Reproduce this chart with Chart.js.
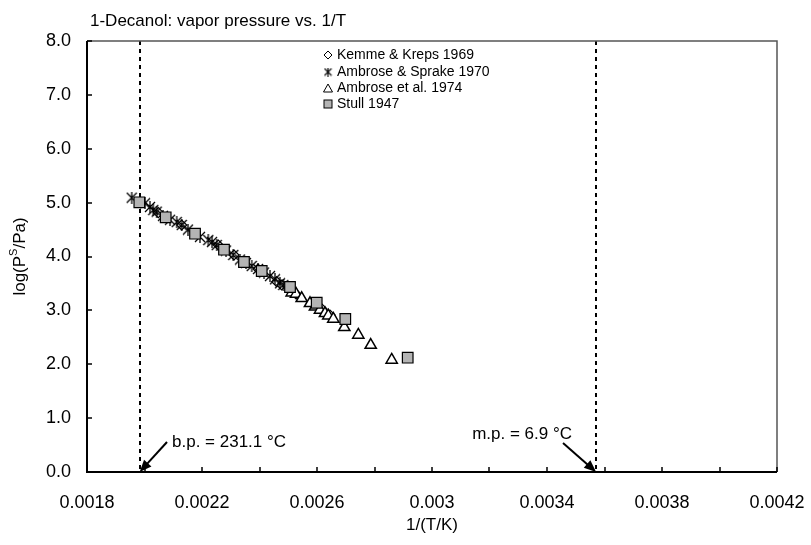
<!DOCTYPE html>
<html>
<head>
<script src="https://cdn.jsdelivr.net/npm/chart.js@4.4.1/dist/chart.umd.min.js"></script>
<style>
  body { margin: 0; background: #fff; }
</style>
</head>
<body>
<canvas id="vpChart" width="811" height="545"></canvas>
<script>
// Kemme & Kreps 1969 (diamonds)
const kemmeX = [0.002048, 0.0021294, 0.0022567, 0.0023113, 0.0023948, 0.0024598, 0.0024772, 0.002527, 0.0025826, 0.0026174, 0.0026452];
const kemmeY = [4.813, 4.585, 4.213, 4.028, 3.768, 3.532, 3.471, 3.304, 3.137, 3.025, 2.914];

// Ambrose & Sprake 1970 (asterisks)
const sprakeX = [0.0019555, 0.0020017, 0.0020191, 0.0020306, 0.0020424, 0.0020643, 0.0020887, 0.002112, 0.0021294, 0.0021513,
                 0.002193, 0.0022219, 0.0022348, 0.0022511, 0.0022835, 0.0023089, 0.0023322, 0.002353, 0.0023729, 0.0023948,
                 0.0024157, 0.0024365, 0.0024539, 0.0024713, 0.0024828];
const sprakeY = [5.091, 4.988, 4.919, 4.863, 4.832, 4.755, 4.681, 4.640, 4.585, 4.499,
                 4.364, 4.306, 4.269, 4.213, 4.111, 4.028, 3.944, 3.879, 3.824, 3.768,
                 3.703, 3.638, 3.577, 3.503, 3.471];

// Ambrose et al. 1974 (triangles)
const ambroseX = [0.002512, 0.002527, 0.0025468, 0.0025757, 0.002593, 0.0026104, 0.0026278, 0.0026393, 0.0026567, 0.002695, 0.0027437, 0.0027868, 0.0028598];
const ambroseY = [3.328, 3.304, 3.224, 3.131, 3.068, 3.007, 2.946, 2.901, 2.840, 2.686, 2.543, 2.357, 2.079];

// Stull 1947 (grey squares)
const stullX = [0.001982, 0.0020737, 0.0021757, 0.0022765, 0.002346, 0.0024077, 0.0025061, 0.002599, 0.0026984, 0.0029155];
const stullY = [5.006, 4.728, 4.423, 4.126, 3.898, 3.731, 3.434, 3.142, 2.840, 2.122];

const seriesNames = ['Kemme & Kreps 1969', 'Ambrose & Sprake 1970', 'Ambrose et al. 1974', 'Stull 1947'];

const xTickLabels = ['0.0018', '0.0022', '0.0026', '0.003', '0.0034', '0.0038', '0.0042'];
const yTickLabels = ['0.0', '1.0', '2.0', '3.0', '4.0', '5.0', '6.0', '7.0', '8.0'];

// boiling / melting point lines: 1/T
const bpX = 1 / (231.1 + 273.15);
const mpX = 1 / (6.9 + 273.15);

const FONT = '"Liberation Sans", Arial, Helvetica, sans-serif';

function pts(xs, ys) {
  return xs.map((x, i) => ({ x: x, y: ys[i] }));
}

function makeAsterisk(size, lw) {
  const c = document.createElement('canvas');
  c.width = size; c.height = size;
  const g = c.getContext('2d');
  g.strokeStyle = '#000';
  g.lineWidth = lw;
  g.beginPath();
  g.moveTo(1, 1); g.lineTo(size - 1, size - 1);
  g.moveTo(size - 1, 1); g.lineTo(1, size - 1);
  g.moveTo(size / 2, 0); g.lineTo(size / 2, size);
  g.stroke();
  return c;
}
const starBig = makeAsterisk(12, 1.3);
const starSmall = makeAsterisk(9, 1.1);

function arrow(ctx, x1, y1, x2, y2) {
  const ang = Math.atan2(y2 - y1, x2 - x1);
  const hl = 12, hw = 5;
  ctx.beginPath();
  ctx.moveTo(x1, y1);
  ctx.lineTo(x2 - Math.cos(ang) * hl * 0.8, y2 - Math.sin(ang) * hl * 0.8);
  ctx.stroke();
  ctx.beginPath();
  ctx.moveTo(x2, y2);
  ctx.lineTo(x2 - Math.cos(ang) * hl - Math.sin(ang) * hw, y2 - Math.sin(ang) * hl + Math.cos(ang) * hw);
  ctx.lineTo(x2 - Math.cos(ang) * hl + Math.sin(ang) * hw, y2 - Math.sin(ang) * hl - Math.cos(ang) * hw);
  ctx.closePath();
  ctx.fill();
}

const decorPlugin = {
  id: 'decor',
  beforeDatasetsDraw(chart) {
    const { ctx, chartArea: a, scales: { x } } = chart;
    ctx.save();
    ctx.strokeStyle = '#000';
    ctx.lineWidth = 2;
    ctx.setLineDash([4, 4]);
    [bpX, mpX].forEach(v => {
      const px = Math.round(x.getPixelForValue(v));
      ctx.beginPath();
      ctx.moveTo(px, a.top);
      ctx.lineTo(px, a.bottom);
      ctx.stroke();
    });
    ctx.restore();
  },
  afterDraw(chart) {
    const { ctx, chartArea: a, scales: { x, y } } = chart;
    ctx.save();
    // frame: top/right thin grey
    ctx.strokeStyle = '#555';
    ctx.lineWidth = 1.5;
    ctx.beginPath();
    ctx.moveTo(a.left, a.top);
    ctx.lineTo(a.right, a.top);
    ctx.lineTo(a.right, a.bottom);
    ctx.stroke();
    // axes
    ctx.strokeStyle = '#000';
    ctx.lineWidth = 2;
    ctx.beginPath();
    ctx.moveTo(a.left, a.top);
    ctx.lineTo(a.left, a.bottom);
    ctx.lineTo(a.right, a.bottom);
    ctx.stroke();
    // inward ticks
    ctx.lineWidth = 1.5;
    ctx.beginPath();
    x.ticks.forEach(t => {
      const px = Math.round(x.getPixelForValue(t.value));
      ctx.moveTo(px, a.bottom);
      ctx.lineTo(px, a.bottom - 5);
    });
    y.ticks.forEach(t => {
      const py = Math.round(y.getPixelForValue(t.value));
      ctx.moveTo(a.left, py);
      ctx.lineTo(a.left + 5, py);
    });
    ctx.stroke();

    // annotations
    ctx.lineWidth = 2;
    ctx.fillStyle = '#000';
    arrow(ctx, x.getPixelForValue(0.0020783), y.getPixelForValue(0.557), x.getPixelForValue(bpX), y.getPixelForValue(0));
    arrow(ctx, x.getPixelForValue(0.0034557), y.getPixelForValue(0.538), x.getPixelForValue(mpX), y.getPixelForValue(0));
    ctx.font = '17px ' + FONT;
    ctx.textBaseline = 'middle';
    ctx.textAlign = 'left';
    ctx.fillText('b.p. = 231.1 °C', x.getPixelForValue(0.0020957), y.getPixelForValue(0.557));
    ctx.textAlign = 'right';
    ctx.fillText('m.p. = 6.9 °C', x.getPixelForValue(0.003487), y.getPixelForValue(0.705));

    // title
    ctx.textAlign = 'left';
    ctx.font = '17px ' + FONT;
    ctx.fillText('1-Decanol: vapor pressure vs. 1/T', 90, 21);

    // x title
    ctx.textAlign = 'center';
    ctx.fillText('1/(T/K)', (a.left + a.right) / 2, 525);

    // y title with superscript
    ctx.translate(20, (a.top + a.bottom) / 2);
    ctx.rotate(-Math.PI / 2);
    const p1 = 'log(P', p2 = 'S', p3 = '/Pa)';
    ctx.font = '17px ' + FONT;
    const w1 = ctx.measureText(p1).width, w3 = ctx.measureText(p3).width;
    ctx.font = '11px ' + FONT;
    const w2 = ctx.measureText(p2).width;
    const tot = w1 + w2 + w3;
    let cx = -tot / 2;
    ctx.textAlign = 'left';
    ctx.font = '17px ' + FONT;
    ctx.fillText(p1, cx, 0); cx += w1;
    ctx.font = '11px ' + FONT;
    ctx.fillText(p2, cx, -6); cx += w2;
    ctx.font = '17px ' + FONT;
    ctx.fillText(p3, cx, 0);
    ctx.setTransform(1, 0, 0, 1, 0, 0);

    // legend
    const lx = 328, ly = [55, 72, 88, 104];
    ctx.font = '14px ' + FONT;
    ctx.textAlign = 'left';
    ctx.textBaseline = 'middle';
    ctx.lineWidth = 1;
    ctx.strokeStyle = '#000';
    // diamond
    ctx.beginPath();
    ctx.moveTo(lx, ly[0] - 4); ctx.lineTo(lx + 4, ly[0]); ctx.lineTo(lx, ly[0] + 4); ctx.lineTo(lx - 4, ly[0]); ctx.closePath();
    ctx.fillStyle = '#fff'; ctx.fill(); ctx.stroke();
    // asterisk
    ctx.drawImage(starSmall, lx - 4.5, ly[1] - 4.5);
    // triangle
    ctx.beginPath();
    ctx.moveTo(lx, ly[2] - 4); ctx.lineTo(lx + 4.5, ly[2] + 4); ctx.lineTo(lx - 4.5, ly[2] + 4); ctx.closePath();
    ctx.fill(); ctx.stroke();
    // square
    ctx.fillStyle = '#b4b4b4';
    ctx.fillRect(lx - 4, ly[3] - 4, 8, 8);
    ctx.strokeRect(lx - 4, ly[3] - 4, 8, 8);
    ctx.fillStyle = '#000';
    seriesNames.forEach((n, i) => ctx.fillText(n, lx + 9, ly[i]));
    ctx.restore();
  }
};

const ctx = document.getElementById('vpChart').getContext('2d');
new Chart(ctx, {
  type: 'scatter',
  data: {
    datasets: [
      {
        label: seriesNames[0], data: pts(kemmeX, kemmeY), order: 3,
        pointStyle: 'rectRot', pointRadius: 5, backgroundColor: '#fff', borderColor: '#000', borderWidth: 1.2
      },
      {
        label: seriesNames[1], data: pts(sprakeX, sprakeY), order: 2,
        pointStyle: starBig, pointRadius: 6, backgroundColor: '#000', borderColor: '#000', borderWidth: 1
      },
      {
        label: seriesNames[2], data: pts(ambroseX, ambroseY), order: 1,
        pointStyle: 'triangle', pointRadius: 6.5, backgroundColor: '#fff', borderColor: '#000', borderWidth: 1.5
      },
      {
        label: seriesNames[3], data: pts(stullX, stullY), order: 0,
        pointStyle: 'rect', pointRadius: 7.5, backgroundColor: '#b4b4b4', borderColor: '#000', borderWidth: 1.2
      }
    ]
  },
  options: {
    responsive: false,
    animation: false,
    layout: { padding: { left: 0, top: 41, right: 34, bottom: 0 } },
    plugins: {
      legend: { display: false },
      tooltip: { enabled: false }
    },
    scales: {
      x: {
        type: 'linear',
        min: 0.0018,
        max: 0.0042,
        afterFit: s => { s.height = 73; s.paddingLeft = 0; s.paddingRight = 0; },
        grid: { display: false, drawTicks: false },
        border: { display: false },
        ticks: {
          stepSize: 0.0002,
          padding: 20,
          color: '#000',
          font: { family: FONT, size: 18 },
          maxRotation: 0,
          autoSkip: false,
          callback: (v, i) => (i % 2 === 0 ? xTickLabels[i / 2] : '')
        }
      },
      y: {
        min: 0,
        max: 8,
        afterFit: s => { s.width = 87; s.paddingTop = 0; s.paddingBottom = 0; },
        grid: { display: false, drawTicks: false },
        border: { display: false },
        ticks: {
          stepSize: 1,
          padding: 16,
          color: '#000',
          font: { family: FONT, size: 18 },
          callback: (v, i) => yTickLabels[i]
        }
      }
    }
  },
  plugins: [decorPlugin]
});
</script>
</body>
</html>
